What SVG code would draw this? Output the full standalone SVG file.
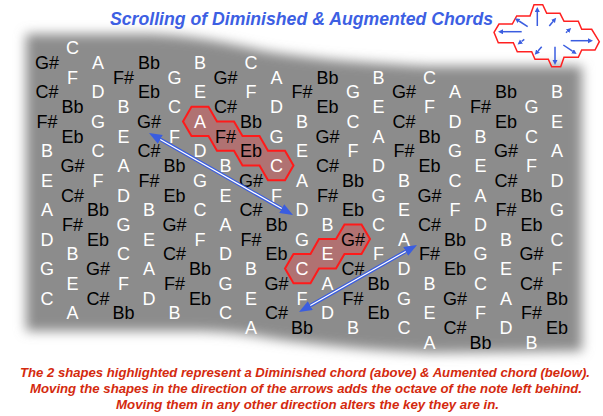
<svg xmlns="http://www.w3.org/2000/svg" width="603" height="416" viewBox="0 0 603 416">
<defs>
<style>
.n{font-family:"Liberation Sans",Arial,sans-serif;font-size:18px;text-anchor:middle}
.w{fill:#ffffff}
.k{fill:#000000}
.hex{fill:#b07272;stroke:#ff1a1a;stroke-width:2;stroke-linejoin:miter}
.title{font-family:"Liberation Sans",Arial,sans-serif;font-size:17.5px;font-weight:bold;font-style:italic;fill:#3d5fe3}
.cap{font-family:"Liberation Sans",Arial,sans-serif;font-size:13px;font-weight:bold;font-style:italic;fill:#d42a0e;text-anchor:middle}
.arw{stroke:#3a5de0;stroke-width:3.6;fill:none}
.core{stroke:#ffffff;stroke-width:1.2;fill:none}
.ca{stroke:#3a5de0;stroke-width:1.5;fill:none}
</style>
<filter id="soft" x="-10%" y="-15%" width="120%" height="130%"><feGaussianBlur stdDeviation="6"/></filter>
<marker id="head" markerUnits="userSpaceOnUse" markerWidth="14" markerHeight="11" refX="0" refY="5" orient="auto-start-reverse"><path d="M0,0 L13,5 L0,10 z" fill="#3a5de0"/></marker>
<marker id="sh" markerUnits="userSpaceOnUse" markerWidth="6" markerHeight="6" refX="0" refY="2.5" orient="auto"><path d="M0,0 L5,2.5 L0,5 z" fill="#3a5de0"/></marker>
</defs>
<rect width="603" height="416" fill="#ffffff"/>
<path d="M26,34 L150,34 C200,36 230,44 270,52 C320,60 380,64 430,66 L582,66 L582,351 L430,353 C380,351 330,346 290,341 C260,337 240,332 200,331 L26,331 Z" fill="#8c8c8c" filter="url(#soft)"/>
<text class="title" x="110" y="25" textLength="383" lengthAdjust="spacingAndGlyphs">Scrolling of Diminished &amp; Augmented Chords</text>
<g id="compass">
<path d="M494,32.3 L499,24 L512.3,24 L516.7,16 L530,16 L534,4.7 L542.7,4.7 L546.7,13.3 L560,13.3 L564,21.3 L578.3,21.3 L581.7,29.3 L591.7,29.3 L599.3,41.7 L595,50 L581.7,50 L578.3,57.3 L564,57.3 L560.7,66.7 L551.7,66.7 L548.3,59.3 L535,59.3 L531.7,51.7 L517.3,51.7 L513.3,42.7 L498.3,42.7 Z" fill="none" stroke="#ff2020" stroke-width="1.5"/>
<line class="ca" x1="537.3" y1="26" x2="537.3" y2="12" marker-end="url(#sh)"/>
<line class="ca" x1="521.7" y1="31.7" x2="503" y2="31.7" marker-end="url(#sh)"/>
<line class="ca" x1="570.7" y1="40.7" x2="588" y2="40.7" marker-end="url(#sh)"/>
<line class="ca" x1="555" y1="46.7" x2="555" y2="60" marker-end="url(#sh)"/>
<line class="ca" x1="527.7" y1="26.7" x2="519" y2="21" marker-end="url(#sh)"/>
<line class="ca" x1="549.3" y1="26" x2="553" y2="21.5" marker-end="url(#sh)"/>
<line class="ca" x1="566" y1="32.7" x2="567.5" y2="31.3" marker-end="url(#sh)"/>
<line class="ca" x1="524.3" y1="39.3" x2="521.5" y2="41.5" marker-end="url(#sh)"/>
<line class="ca" x1="541.7" y1="46.7" x2="538" y2="51" marker-end="url(#sh)"/>
<line class="ca" x1="563.3" y1="45" x2="572.5" y2="51.2" marker-end="url(#sh)"/>
</g>
<g id="diminished-shape"><path class="hex" d="M183,121.4 L191.5,106.7 L208.5,106.7 L217,121.4 L234,121.4 L242.5,136.1 L259.5,136.1 L268,150.8 L285,150.8 L293.5,165.5 L285,180.2 L268,180.2 L259.5,165.5 L242.5,165.5 L234,150.8 L217,150.8 L208.5,136.1 L191.5,136.1 Z"/></g>
<g id="augmented-shape"><path class="hex" d="M285,268.6 L293.5,253.9 L310.5,253.9 L319,239.1 L336,239.1 L344.5,224.4 L361.5,224.4 L370,239.1 L361.5,253.9 L344.5,253.9 L336,268.6 L319,268.6 L310.5,283.3 L293.5,283.3 Z"/></g>
<g id="notes" class="n">
<g id="col0" transform="translate(47,0)"><text class="k" y="69">G#</text><text class="k" y="98.4">C#</text><text class="k" y="127.9">F#</text><text class="w" y="157.3">B</text><text class="w" y="186.8">E</text><text class="w" y="216.2">A</text><text class="w" y="245.6">D</text><text class="w" y="275.1">G</text><text class="w" y="304.5">C</text></g>
<g id="col1" transform="translate(72.5,0)"><text class="w" y="54.3">C</text><text class="w" y="83.7">F</text><text class="k" y="113.2">Bb</text><text class="k" y="142.6">Eb</text><text class="k" y="172">G#</text><text class="k" y="201.5">C#</text><text class="k" y="230.9">F#</text><text class="w" y="260.4">B</text><text class="w" y="289.8">E</text><text class="w" y="319.2">A</text></g>
<g id="col2" transform="translate(98,0)"><text class="w" y="69">A</text><text class="w" y="98.4">D</text><text class="w" y="127.9">G</text><text class="w" y="157.3">C</text><text class="w" y="186.8">F</text><text class="k" y="216.2">Bb</text><text class="k" y="245.6">Eb</text><text class="k" y="275.1">G#</text><text class="k" y="304.5">C#</text></g>
<g id="col3" transform="translate(123.5,0)"><text class="k" y="83.7">F#</text><text class="w" y="113.2">B</text><text class="w" y="142.6">E</text><text class="w" y="172">A</text><text class="w" y="201.5">D</text><text class="w" y="230.9">G</text><text class="w" y="260.4">C</text><text class="w" y="289.8">F</text><text class="k" y="319.2">Bb</text></g>
<g id="col4" transform="translate(149,0)"><text class="k" y="69">Bb</text><text class="k" y="98.4">Eb</text><text class="k" y="127.9">G#</text><text class="k" y="157.3">C#</text><text class="k" y="186.8">F#</text><text class="w" y="216.2">B</text><text class="w" y="245.6">E</text><text class="w" y="275.1">A</text><text class="w" y="304.5">D</text></g>
<g id="col5" transform="translate(174.5,0)"><text class="w" y="83.7">G</text><text class="w" y="113.2">C</text><text class="w" y="142.6">F</text><text class="k" y="172">Bb</text><text class="k" y="201.5">Eb</text><text class="k" y="230.9">G#</text><text class="k" y="260.4">C#</text><text class="k" y="289.8">F#</text><text class="w" y="319.2">B</text></g>
<g id="col6" transform="translate(200,0)"><text class="w" y="69">B</text><text class="w" y="98.4">E</text><text class="w" y="127.9">A</text><text class="w" y="157.3">D</text><text class="w" y="186.8">G</text><text class="w" y="216.2">C</text><text class="w" y="245.6">F</text><text class="k" y="275.1">Bb</text><text class="k" y="304.5">Eb</text></g>
<g id="col7" transform="translate(225.5,0)"><text class="k" y="83.7">G#</text><text class="k" y="113.2">C#</text><text class="k" y="142.6">F#</text><text class="w" y="172">B</text><text class="w" y="201.5">E</text><text class="w" y="230.9">A</text><text class="w" y="260.4">D</text><text class="w" y="289.8">G</text><text class="w" y="319.2">C</text></g>
<g id="col8" transform="translate(251,0)"><text class="w" y="69">C</text><text class="w" y="98.4">F</text><text class="k" y="127.9">Bb</text><text class="k" y="157.3">Eb</text><text class="k" y="186.8">G#</text><text class="k" y="216.2">C#</text><text class="k" y="245.6">F#</text><text class="w" y="275.1">B</text><text class="w" y="304.5">E</text><text class="w" y="334">A</text></g>
<g id="col9" transform="translate(276.5,0)"><text class="w" y="83.7">A</text><text class="w" y="113.2">D</text><text class="w" y="142.6">G</text><text class="w" y="172">C</text><text class="w" y="201.5">F</text><text class="k" y="230.9">Bb</text><text class="k" y="260.4">Eb</text><text class="k" y="289.8">G#</text><text class="k" y="319.2">C#</text></g>
<g id="col10" transform="translate(302,0)"><text class="k" y="98.4">F#</text><text class="w" y="127.9">B</text><text class="w" y="157.3">E</text><text class="w" y="186.8">A</text><text class="w" y="216.2">D</text><text class="w" y="245.6">G</text><text class="w" y="275.1">C</text><text class="w" y="304.5">F</text><text class="k" y="334">Bb</text></g>
<g id="col11" transform="translate(327.5,0)"><text class="k" y="83.7">Bb</text><text class="k" y="113.2">Eb</text><text class="k" y="142.6">G#</text><text class="k" y="172">C#</text><text class="k" y="201.5">F#</text><text class="w" y="230.9">B</text><text class="w" y="260.4">E</text><text class="w" y="289.8">A</text><text class="w" y="319.2">D</text></g>
<g id="col12" transform="translate(353,0)"><text class="w" y="98.4">G</text><text class="w" y="127.9">C</text><text class="w" y="157.3">F</text><text class="k" y="186.8">Bb</text><text class="k" y="216.2">Eb</text><text class="k" y="245.6">G#</text><text class="k" y="275.1">C#</text><text class="k" y="304.5">F#</text><text class="w" y="334">B</text></g>
<g id="col13" transform="translate(378.5,0)"><text class="w" y="83.7">B</text><text class="w" y="113.2">E</text><text class="w" y="142.6">A</text><text class="w" y="172">D</text><text class="w" y="201.5">G</text><text class="w" y="230.9">C</text><text class="w" y="260.4">F</text><text class="k" y="289.8">Bb</text><text class="k" y="319.2">Eb</text></g>
<g id="col14" transform="translate(404,0)"><text class="k" y="98.4">G#</text><text class="k" y="127.9">C#</text><text class="k" y="157.3">F#</text><text class="w" y="186.8">B</text><text class="w" y="216.2">E</text><text class="w" y="245.6">A</text><text class="w" y="275.1">D</text><text class="w" y="304.5">G</text><text class="w" y="334">C</text></g>
<g id="col15" transform="translate(429.5,0)"><text class="w" y="83.7">C</text><text class="w" y="113.2">F</text><text class="k" y="142.6">Bb</text><text class="k" y="172">Eb</text><text class="k" y="201.5">G#</text><text class="k" y="230.9">C#</text><text class="k" y="260.4">F#</text><text class="w" y="289.8">B</text><text class="w" y="319.2">E</text><text class="w" y="348.7">A</text></g>
<g id="col16" transform="translate(455,0)"><text class="w" y="98.4">A</text><text class="w" y="127.9">D</text><text class="w" y="157.3">G</text><text class="w" y="186.8">C</text><text class="w" y="216.2">F</text><text class="k" y="245.6">Bb</text><text class="k" y="275.1">Eb</text><text class="k" y="304.5">G#</text><text class="k" y="334">C#</text></g>
<g id="col17" transform="translate(480.5,0)"><text class="k" y="113.2">F#</text><text class="w" y="142.6">B</text><text class="w" y="172">E</text><text class="w" y="201.5">A</text><text class="w" y="230.9">D</text><text class="w" y="260.4">G</text><text class="w" y="289.8">C</text><text class="w" y="319.2">F</text><text class="k" y="348.7">Bb</text></g>
<g id="col18" transform="translate(506,0)"><text class="k" y="98.4">Bb</text><text class="k" y="127.9">Eb</text><text class="k" y="157.3">G#</text><text class="k" y="186.8">C#</text><text class="k" y="216.2">F#</text><text class="w" y="245.6">B</text><text class="w" y="275.1">E</text><text class="w" y="304.5">A</text><text class="w" y="334">D</text></g>
<g id="col19" transform="translate(531.5,0)"><text class="w" y="113.2">G</text><text class="w" y="142.6">C</text><text class="w" y="172">F</text><text class="k" y="201.5">Bb</text><text class="k" y="230.9">Eb</text><text class="k" y="260.4">G#</text><text class="k" y="289.8">C#</text><text class="k" y="319.2">F#</text><text class="w" y="348.7">B</text></g>
<g id="col20" transform="translate(557,0)"><text class="w" y="98.4">B</text><text class="w" y="127.9">E</text><text class="w" y="157.3">A</text><text class="w" y="186.8">D</text><text class="w" y="216.2">G</text><text class="w" y="245.6">C</text><text class="w" y="275.1">F</text><text class="k" y="304.5">Bb</text><text class="k" y="334">Eb</text></g>
</g>
<g id="connectors">
<line class="arw" x1="160.3" y1="139.4" x2="281.7" y2="208.6" marker-start="url(#head)" marker-end="url(#head)"/>
<line class="core" x1="160.3" y1="139.4" x2="281.7" y2="208.6"/>
<line class="arw" x1="310.3" y1="305.6" x2="405.7" y2="251.4" marker-start="url(#head)" marker-end="url(#head)"/>
<line class="core" x1="310.3" y1="305.6" x2="405.7" y2="251.4"/>
</g>
<g id="caption">
<text class="cap" x="305" y="377" textLength="570" lengthAdjust="spacingAndGlyphs">The 2 shapes highlighted represent a Diminished chord (above) &amp; Aumented chord (below).</text>
<text class="cap" x="306" y="393" textLength="552" lengthAdjust="spacingAndGlyphs">Moving the shapes in the direction of the arrows adds the octave of the note left behind.</text>
<text class="cap" x="307.5" y="409" textLength="383" lengthAdjust="spacingAndGlyphs">Moving them in any other direction alters the key they are in.</text>
</g>
</svg>
